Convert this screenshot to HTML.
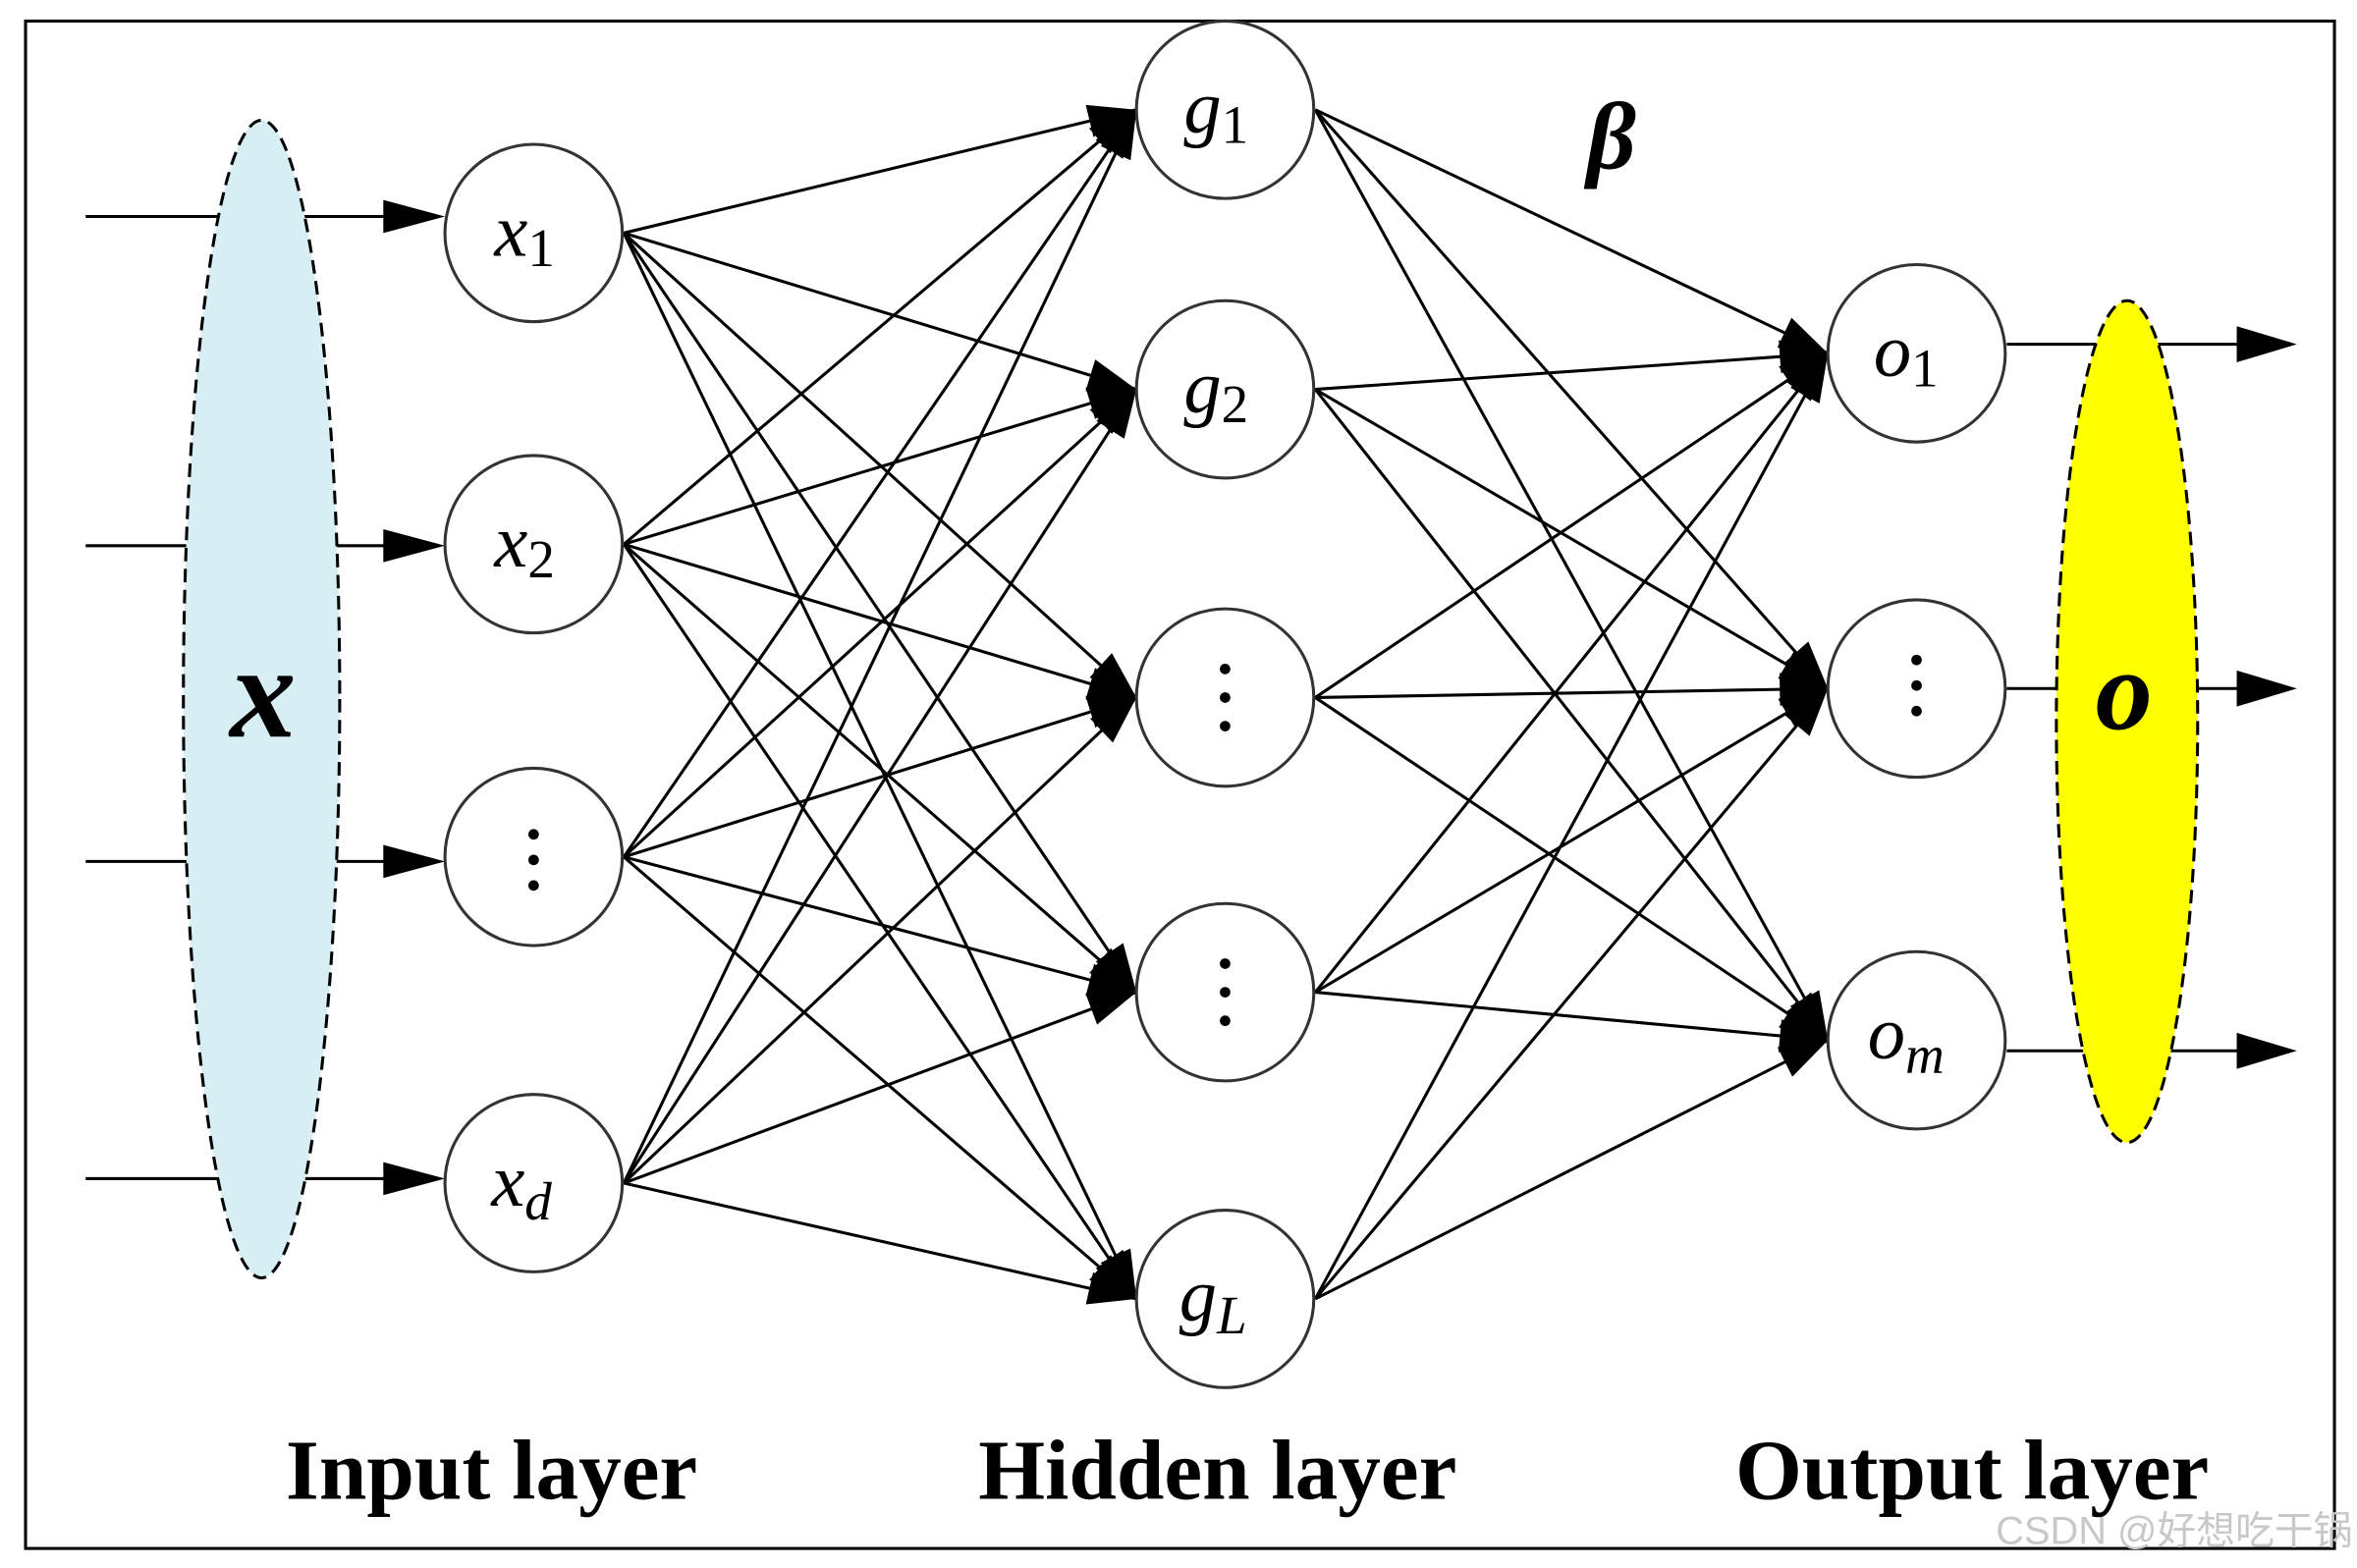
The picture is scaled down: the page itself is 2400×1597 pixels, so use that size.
<!DOCTYPE html>
<html><head><meta charset="utf-8">
<style>
html,body{margin:0;padding:0;background:#fff;}
svg{display:block;}
text{font-family:"Liberation Serif",serif;}
</style></head>
<body>
<svg id="s" width="2400" height="1597" viewBox="0 0 1568 1043" preserveAspectRatio="none" xmlns="http://www.w3.org/2000/svg">
<rect x="17" y="14" width="1536" height="1016" fill="#fff" stroke="#000" stroke-width="2"/>
<g id="lines" stroke="#000" stroke-width="2" fill="none"></g>
<g id="io" stroke="#000" stroke-width="2"></g>
<ellipse cx="174" cy="465" rx="52" ry="385" fill="#d6eef4" stroke="#000" stroke-width="2" stroke-dasharray="9,5"/>
<ellipse cx="1415" cy="480" rx="47" ry="280" fill="#ffff00" stroke="#000" stroke-width="2" stroke-dasharray="9,5"/>
<g id="nodes" fill="#fff" stroke="#333" stroke-width="2"></g>
<g font-style="italic" font-size="50" text-anchor="middle">
<text x="349" y="170">x<tspan font-size="36" font-style="normal" dy="7">1</tspan></text>
<text x="349" y="377">x<tspan font-size="36" font-style="normal" dy="7">2</tspan></text>
<text x="347" y="802">x<tspan font-size="36" dy="9">d</tspan></text>
<text x="809" y="88">g<tspan font-size="36" font-style="normal" dy="7">1</tspan></text>
<text x="809" y="274">g<tspan font-size="36" font-style="normal" dy="7">2</tspan></text>
<text x="807" y="878">g<tspan font-size="36" dy="9">L</tspan></text>
<text x="1268" y="250">o<tspan font-size="36" font-style="normal" dy="7">1</tspan></text>
<text x="1268" y="704">o<tspan font-size="36" dy="10">m</tspan></text>
</g>
<g fill="#000">
<circle cx="355" cy="555" r="3.5"/><circle cx="355" cy="572" r="3.5"/><circle cx="355" cy="589" r="3.5"/>
<circle cx="815" cy="445" r="3.5"/><circle cx="815" cy="464" r="3.5"/><circle cx="815" cy="483" r="3.5"/>
<circle cx="815" cy="641" r="3.5"/><circle cx="815" cy="660" r="3.5"/><circle cx="815" cy="679" r="3.5"/>
<circle cx="1275" cy="439" r="3.5"/><circle cx="1275" cy="456" r="3.5"/><circle cx="1275" cy="473" r="3.5"/>
</g>
<g font-weight="bold" font-style="italic" text-anchor="middle">
<text x="175" y="490" font-size="88">x</text>
<text x="1413" y="485" font-size="76">o</text>
<text x="1072" y="112" font-size="64" font-family="DejaVu Serif,serif">β</text>
</g>
<g font-weight="bold" font-size="57" text-anchor="middle">
<text x="327" y="997">Input layer</text>
<text x="810" y="997">Hidden layer</text>
<text x="1312" y="997">Output layer</text>
</g>
<text x="1565" y="1027" text-anchor="end" font-size="26" fill="#c8c8c8" style="font-family:'Liberation Sans','Noto Sans CJK SC',sans-serif">CSDN @好想吃干锅</text>
</svg>
<script>
var NS="http://www.w3.org/2000/svg";
function el(p,t,a){var e=document.createElementNS(NS,t);for(var k in a)e.setAttribute(k,a[k]);p.appendChild(e);return e;}
var L=document.getElementById("lines"),N=document.getElementById("nodes"),IO=document.getElementById("io");
var inp=[[355,155],[355,362],[355,570],[355,787]];
var hid=[[815,73],[815,259],[815,464],[815,660],[815,864]];
var out=[[1275,235],[1275,458],[1275,692]];
var R=59;
function arrow(x1,y1,x2,y2,len,w){
  var dx=x2-x1,dy=y2-y1,d=Math.hypot(dx,dy),ux=dx/d,uy=dy/d;
  var bx=x2-ux*len,by=y2-uy*len,px=-uy*w/2,py=ux*w/2;
  el(L,"polygon",{points:x2+","+y2+" "+(bx+px)+","+(by+py)+" "+(bx-px)+","+(by-py),fill:"#000",stroke:"none"});
}
function conn(S,T){
  S.forEach(function(s){T.forEach(function(t){
    var x1=s[0]+R+1,y1=s[1];var x2=t[0]-R,y2=t[1];
    el(L,"line",{x1:x1,y1:y1,x2:x2,y2:y2});
    arrow(x1,y1,x2,y2,32,22);
  });});
}
conn(inp,hid);conn(hid,out);
[144,363,573,784].forEach(function(y){
  el(IO,"line",{x1:57,y1:y,x2:290,y2:y});
  el(IO,"polygon",{points:"296,"+y+" 255,"+(y-11)+" 255,"+(y+11),fill:"#000",stroke:"none"});
});
[229,458,699].forEach(function(y){
  el(IO,"line",{x1:1335,y1:y,x2:1520,y2:y});
  el(IO,"polygon",{points:"1528,"+y+" 1488,"+(y-12)+" 1488,"+(y+12),fill:"#000",stroke:"none"});
});
inp.concat(hid,out).forEach(function(c){el(N,"circle",{cx:c[0],cy:c[1],r:R});});
</script>
</body></html>
